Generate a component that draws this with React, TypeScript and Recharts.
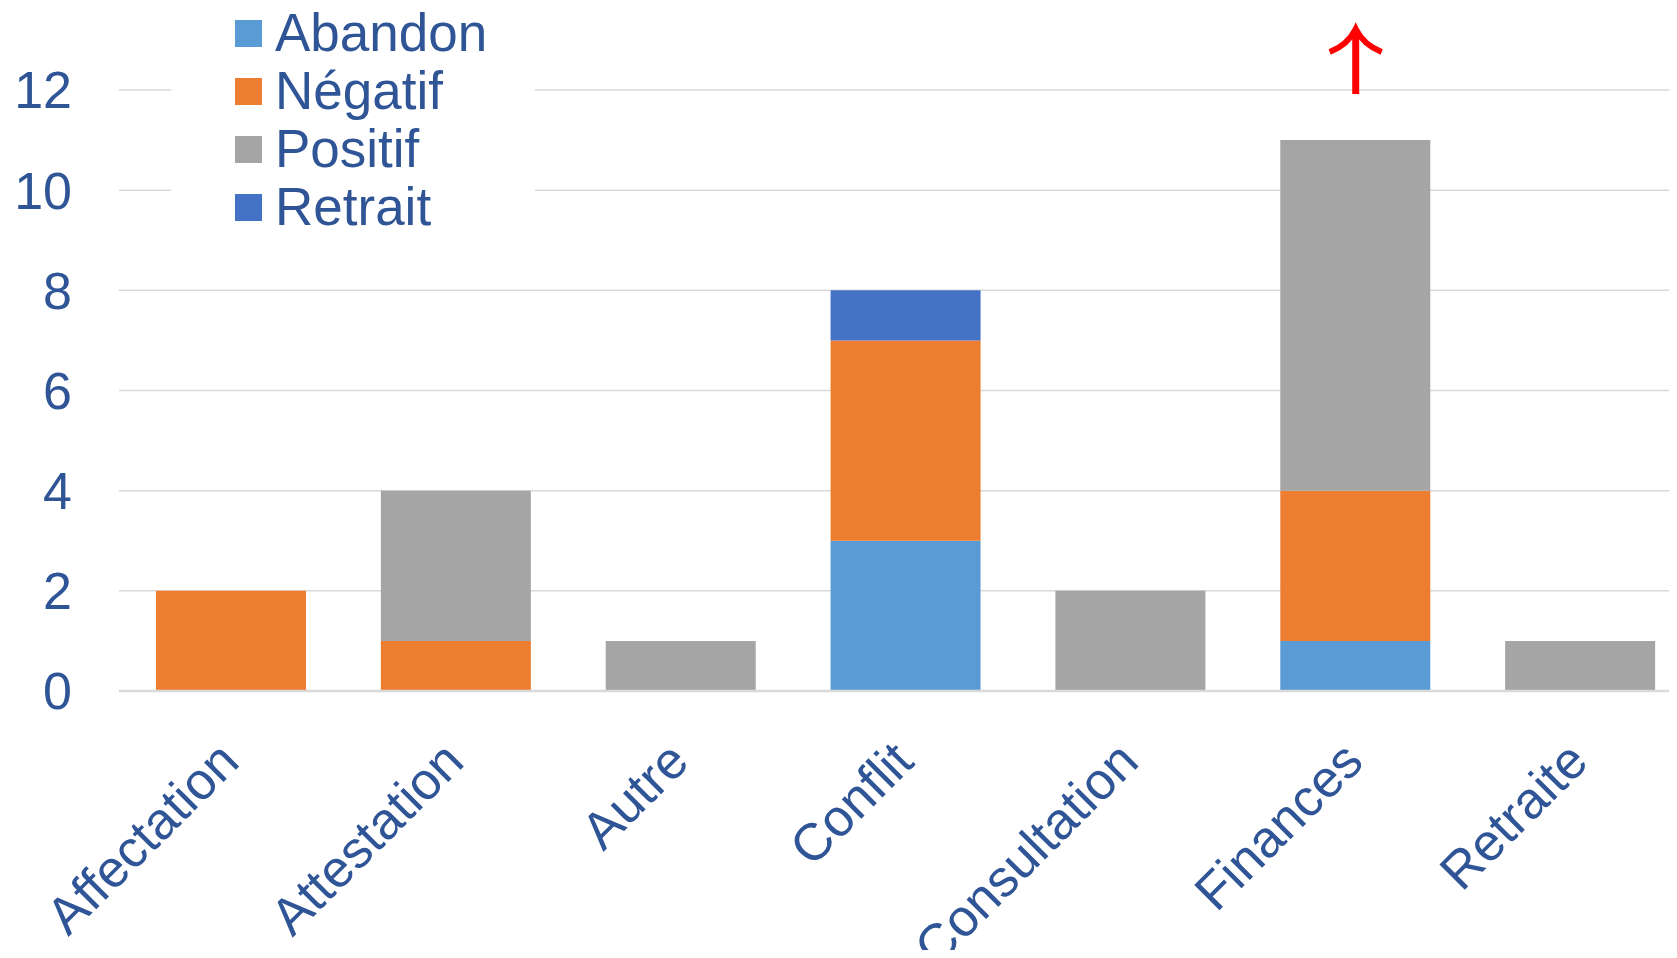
import React from 'react'
import { BarChart, Bar, XAxis, YAxis, CartesianGrid, ReferenceDot } from 'recharts'

const categories = ['Affectation', 'Attestation', 'Autre', 'Conflit', 'Consultation', 'Finances', 'Retraite']
const abandon = [0, 0, 0, 3, 0, 1, 0]
const negatif = [2, 1, 0, 4, 0, 3, 0]
const positif = [0, 3, 1, 0, 2, 7, 1]
const retrait = [0, 0, 0, 1, 0, 0, 0]
const yTicks = [0, 2, 4, 6, 8, 10, 12]

const series = [
  { key: 'abandon', name: 'Abandon', color: '#5B9BD5' },
  { key: 'negatif', name: 'Négatif', color: '#ED7D31' },
  { key: 'positif', name: 'Positif', color: '#A5A5A5' },
  { key: 'retrait', name: 'Retrait', color: '#4472C4' },
]

const data = categories.map((category, i) => ({
  category,
  abandon: abandon[i],
  negatif: negatif[i],
  positif: positif[i],
  retrait: retrait[i],
}))

const TEXT = '#2F5597'
const FONT = '"Liberation Sans", Arial, sans-serif'

function XTick({ x, y, payload }: any) {
  return (
    <g transform={`translate(${x + 10},${y + 73})`}>
      <text x={0} y={0} textAnchor="end" transform="rotate(-45)" fill={TEXT} fontSize={52} fontFamily={FONT}>
        {payload.value}
      </text>
    </g>
  )
}

// legend sits over the top-left of the plot on a white box, like the Excel original
function LegendBox() {
  return (
    <div style={{ position: 'absolute', left: 171, top: 0, width: 364, height: 232, background: '#fff' }}>
      {series.map((s, i) => (
        <div key={s.key} style={{ position: 'absolute', left: 64, top: 6 + i * 58, height: 54, display: 'flex', alignItems: 'center' }}>
          <div style={{ width: 27, height: 27, background: s.color, marginRight: 13 }} />
          <span style={{ color: TEXT, fontSize: 53, fontFamily: FONT, lineHeight: '54px' }}>{s.name}</span>
        </div>
      ))}
    </div>
  )
}

function Arrow({ cx, cy }: any) {
  return (
    <g stroke="#FF0000" fill="none" strokeWidth={7}>
      <line x1={cx} y1={cy + 4} x2={cx} y2={cy - 58} />
      <path d={`M ${cx - 26} ${cy - 38} Q ${cx - 8} ${cy - 45} ${cx} ${cy - 61} Q ${cx + 8} ${cy - 45} ${cx + 26} ${cy - 38}`} strokeWidth={6} />
    </g>
  )
}

export default function App() {
  return (
    <div style={{ margin: -8, width: 1677, height: 958, background: '#fff', fontFamily: FONT, position: 'relative', overflow: 'hidden' }}>
      {/* the original plot runs past the right edge, so the chart is wider than the frame */}
      <BarChart
        width={1693}
        height={958}
        data={data}
        margin={{ top: 90, right: 0, left: 0, bottom: 0 }}
        barSize={150}
      >
        <CartesianGrid vertical={false} stroke="#D9D9D9" strokeWidth={1.5} />
        <XAxis
          dataKey="category"
          height={267}
          interval={0}
          tickLine={false}
          tickSize={0}
          tickMargin={0}
          axisLine={{ stroke: '#D9D9D9', strokeWidth: 2.5 }}
          tick={<XTick />}
        />
        <YAxis
          width={119}
          domain={[0, 12]}
          ticks={yTicks}
          interval={0}
          axisLine={false}
          tickLine={false}
          tickSize={0}
          tickMargin={47}
          tick={{ fill: TEXT, fontSize: 52, fontFamily: FONT }}
        />
        {series.map(s => (
          <Bar key={s.key} dataKey={s.key} name={s.name} stackId="a" fill={s.color} isAnimationActive={false} />
        ))}
        <ReferenceDot x="Finances" y={12} ifOverflow="visible" shape={<Arrow />} />
      </BarChart>
      <LegendBox />
    </div>
  )
}
